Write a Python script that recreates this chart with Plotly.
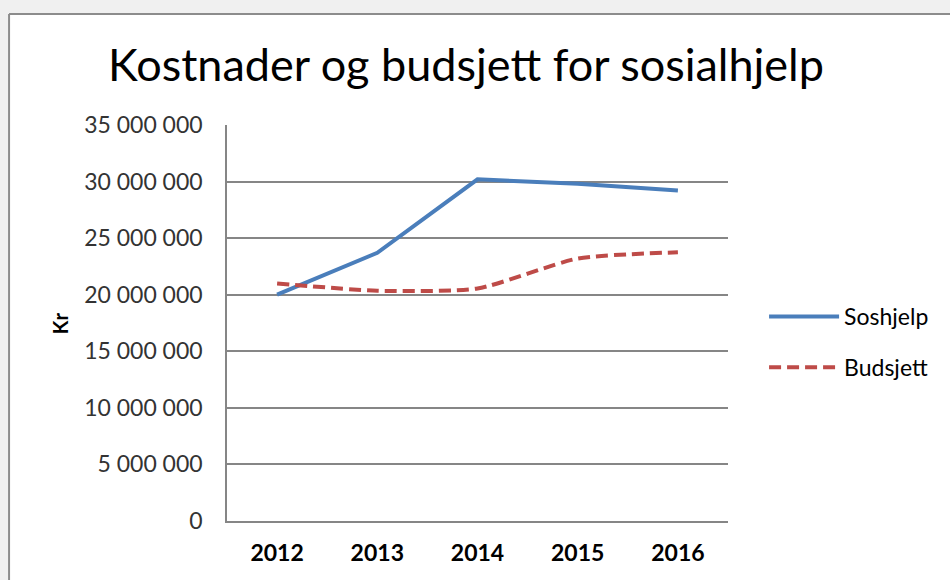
import plotly.graph_objects as go

# data
years = ["2012", "2013", "2014", "2015", "2016"]
soshjelp = [20000000, 23700000, 30200000, 29800000, 29200000]
budsjett = [21000000, 20350000, 20550000, 23200000, 23750000]
y_ticks = [0, 5000000, 10000000, 15000000, 20000000, 25000000, 30000000, 35000000]

FONT = "Lato, Open Sans, sans-serif"

fig = go.Figure()

fig.add_trace(go.Scatter(
    x=years, y=soshjelp, mode="lines", name="Soshjelp", legendgroup="a",
    line=dict(color="#4A7EBB", width=4)
))
fig.add_trace(go.Scatter(
    x=years, y=budsjett, mode="lines", name="Budsjett", legendgroup="b",
    line=dict(color="#BE4B48", width=4, dash="12px,6px", shape="spline", smoothing=0.6)
))

# grey surround and chart frame (left + top edges only)
fig.add_shape(type="rect", xref="paper", yref="paper",
              x0=-0.5, x1=1.5, y0=1.28, y1=1.5,
              fillcolor="#f0f0f0", line=dict(width=0), layer="below")
fig.add_shape(type="rect", xref="paper", yref="paper",
              x0=-0.5, x1=-0.435, y0=-0.2, y1=1.5,
              fillcolor="#f0f0f0", line=dict(width=0), layer="below")
fig.add_shape(type="line", xref="paper", yref="paper",
              x0=-0.435, x1=1.5, y0=1.28, y1=1.28,
              line=dict(color="#8c8c8c", width=2), layer="below")
fig.add_shape(type="line", xref="paper", yref="paper",
              x0=-0.435, x1=-0.435, y0=-0.2, y1=1.28,
              line=dict(color="#8c8c8c", width=2), layer="below")

# y-axis title as a rotated annotation
fig.add_annotation(text="<b>Kr</b>", xref="paper", yref="paper",
                   x=-0.333, y=0.5, xanchor="center", yanchor="middle",
                   textangle=-90, showarrow=False,
                   font=dict(size=20, family=FONT, color="#000000"))

fig.update_layout(
    width=950, height=580,
    margin=dict(l=227, r=222, t=125, b=59),
    paper_bgcolor="white", plot_bgcolor="white",
    separators=", ",
    font=dict(family=FONT, color="#000000"),
    title=dict(text="Kostnader og budsjett for sosialhjelp",
               x=466 / 950, xanchor="center", y=1 - 65 / 580, yanchor="middle",
               font=dict(size=45, family=FONT, color="#000000")),
    showlegend=True,
    legend=dict(x=1.072, y=0.452, xanchor="left", yanchor="middle",
                font=dict(size=23, family=FONT, color="#000000"),
                tracegroupgap=18, itemwidth=70, bgcolor="rgba(0,0,0,0)"),
    xaxis=dict(type="category", range=[-0.5, 4.5], showgrid=False, ticks="",
               showline=True, linecolor="#868686", linewidth=1.5,
               tickfont=dict(size=23, family=FONT, color="#000000", weight="bold"),
               ticklabelstandoff=11),
    yaxis=dict(range=[0, 35000000], tickvals=y_ticks, tickformat=",d",
               showgrid=True, gridcolor="#868686", gridwidth=1.5,
               showline=True, linecolor="#868686", linewidth=1.5,
               zeroline=False, ticks="",
               tickfont=dict(size=23, family=FONT, color="#333333"),
               ticklabelstandoff=18),
)

# drop the default body margin so the figure fills the window exactly
fig.write_html("out.html", config={"displayModeBar": False},
               post_script="document.body.style.margin='0';")
